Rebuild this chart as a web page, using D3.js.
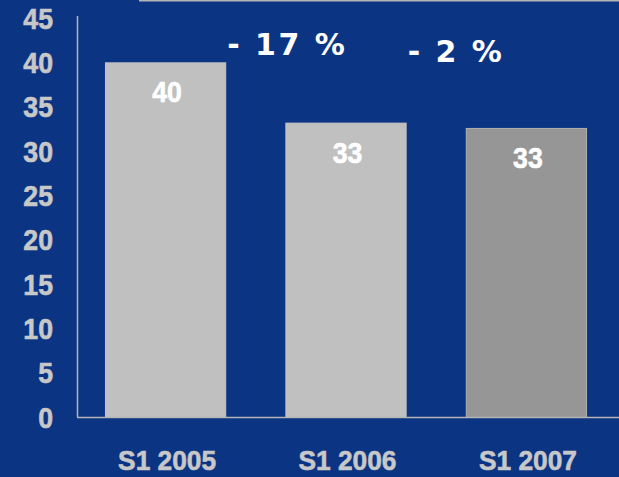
<!DOCTYPE html>
<html>
<head>
<meta charset="utf-8">
<script src="https://cdn.jsdelivr.net/npm/d3@7"></script>
<style>
  html, body { margin: 0; padding: 0; background: #0b3583; }
  svg { display: block; }
</style>
</head>
<body>
<svg id="chart" width="619" height="477"></svg>
<script>
// data
const categories = ['S1 2005', 'S1 2006', 'S1 2007']
const values = [40, 33.2, 32.6]
const valueLabels = ['40', '33', '33']
const changeLabels = ['- 17 %', '- 2 %']
const yTickValues = [0, 5, 10, 15, 20, 25, 30, 35, 40, 45]

const bg = '#0b3583'
const axisColor = '#b4b4b4'
const tickTextColor = '#c8c8c8'
const barFill = ['#c0c0c0', '#c0c0c0', '#969696']
const barStroke = ['#c4c4c4', '#c4c4c4', '#b0b0b0']

const svg = d3.select('#chart')
const width = +svg.attr('width')
const height = +svg.attr('height')

const squeeze = 0.92
const labelFont = '"Liberation Sans", Arial, sans-serif'

svg.append('rect')
  .attr('width', width).attr('height', height)
  .attr('fill', bg)

// thin line at top
svg.append('line')
  .attr('x1', 139).attr('x2', width)
  .attr('y1', 0.5).attr('y2', 0.5)
  .attr('stroke', axisColor).attr('stroke-width', 2)

const xScale = d3.scaleBand()
  .domain(categories)
  .range([77, 614])
  .paddingInner(1 / 3)
  .paddingOuter(0.155)

const yScale = d3.scaleLinear()
  .domain([0, 45])
  .range([417, 18])

// bars
svg.selectAll('rect.bar')
  .data(values)
  .enter()
  .append('rect')
  .attr('class', 'bar')
  .attr('x', (d, i) => xScale(categories[i]) + 0.5)
  .attr('y', d => yScale(d) + 0.5)
  .attr('width', xScale.bandwidth())
  .attr('height', d => yScale(0) - yScale(d))
  .attr('fill', (d, i) => barFill[i])
  .attr('stroke', (d, i) => barStroke[i])
  .attr('stroke-width', 1)

// axes lines
svg.append('line')
  .attr('x1', 77.5).attr('x2', 77.5)
  .attr('y1', 16).attr('y2', yScale(0))
  .attr('stroke', axisColor).attr('stroke-width', 1.5)

svg.append('line')
  .attr('x1', 77).attr('x2', width)
  .attr('y1', yScale(0) + 0.5).attr('y2', yScale(0) + 0.5)
  .attr('stroke', axisColor).attr('stroke-width', 1.5)

// y tick labels
svg.selectAll('text.ytick')
  .data(yTickValues)
  .enter()
  .append('text')
  .attr('class', 'ytick')
  .attr('transform', d => `translate(53, ${yScale(d) + 10.5}) scale(${squeeze}, 1)`)
  .attr('text-anchor', 'end')
  .style('font-family', labelFont)
  .style('font-weight', 'bold')
  .style('font-size', '29px')
  .attr('fill', tickTextColor)
  .attr('stroke', tickTextColor)
  .attr('stroke-width', 0.6)
  .text(d => d)

// x labels
svg.selectAll('text.xlabel')
  .data(categories)
  .enter()
  .append('text')
  .attr('class', 'xlabel')
  .attr('transform', d => `translate(${xScale(d) + xScale.bandwidth() / 2 + 2}, 470) scale(0.94, 1)`)
  .attr('text-anchor', 'middle')
  .style('font-family', labelFont)
  .style('font-weight', 'bold')
  .style('font-size', '28px')
  .attr('fill', tickTextColor)
  .attr('stroke', tickTextColor)
  .attr('stroke-width', 0.6)
  .text(d => d)

// value labels inside bars
svg.selectAll('text.value')
  .data(values)
  .enter()
  .append('text')
  .attr('class', 'value')
  .attr('transform', (d, i) => `translate(${xScale(categories[i]) + xScale.bandwidth() / 2 + 2}, ${yScale(d) + 40}) scale(${squeeze}, 1)`)
  .attr('text-anchor', 'middle')
  .style('font-family', labelFont)
  .style('font-weight', 'bold')
  .style('font-size', '29px')
  .attr('fill', '#ffffff')
  .attr('stroke', '#ffffff')
  .attr('stroke-width', 0.6)
  .text((d, i) => valueLabels[i])

// change labels between bars
const changeY = [55, 62]
svg.selectAll('text.change')
  .data(changeLabels)
  .enter()
  .append('text')
  .attr('class', 'change')
  .attr('x', (d, i) => xScale(categories[i]) + xScale.bandwidth() + 2)
  .attr('y', (d, i) => changeY[i])
  .style('font-family', '"DejaVu Sans", Verdana, sans-serif')
  .style('font-weight', 'bold')
  .style('font-size', '30px')
  .style('letter-spacing', '2.5px')
  .attr('fill', '#ffffff')
  .text(d => d)
</script>
</body>
</html>
